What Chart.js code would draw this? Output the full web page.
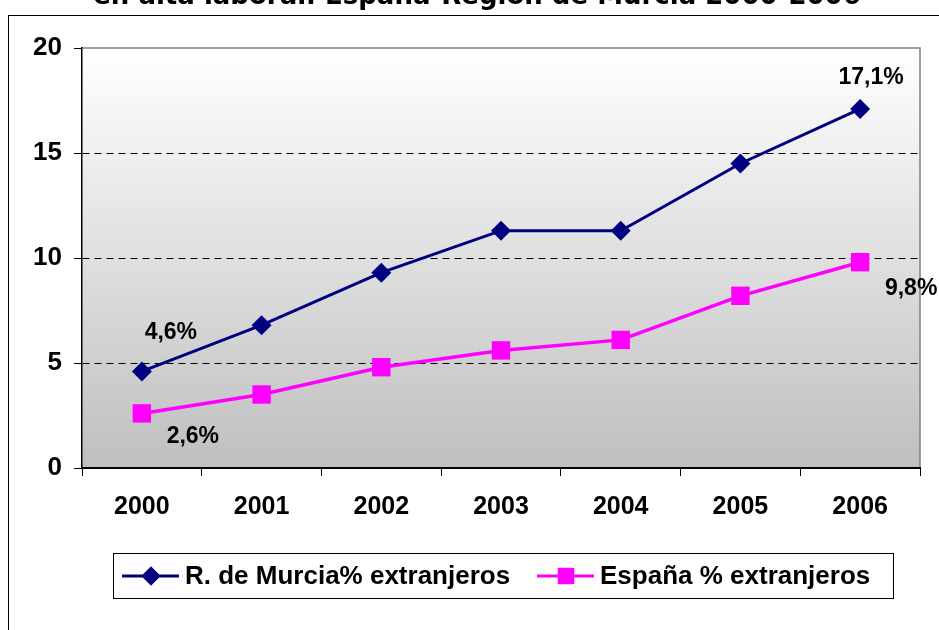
<!DOCTYPE html>
<html>
<head>
<meta charset="utf-8">
<script src="https://cdn.jsdelivr.net/npm/chart.js@4/dist/chart.umd.min.js"></script>
<style>
  html, body { margin: 0; padding: 0; background: #fff; overflow: hidden; }
  #wrap { position: relative; width: 939px; height: 630px; }
</style>
</head>
<body>
<div id="wrap"><canvas id="chart" width="939" height="630"></canvas></div>
<script>
const years = ['2000', '2001', '2002', '2003', '2004', '2005', '2006'];
const murcia = [4.6, 6.8, 9.3, 11.3, 11.3, 14.5, 17.1];
const espana = [2.6, 3.5, 4.8, 5.6, 6.1, 8.2, 9.8];
const seriesNames = ['R. de Murcia% extranjeros', 'España % extranjeros'];
const yTicks = [0, 5, 10, 15, 20];
const titleText = 'en alta laboral. España-Región de Murcia 2000-2006';
// which points carry a value label, and where the label sits relative to the point
const murciaLabels = { 0: [29, -39], 6: [11, -31] };
const espanaLabels = { 0: [51, 23], 6: [51, 26] };

const FONT = '"Liberation Sans", Arial, sans-serif';

const fmt = v => v.toFixed(1).replace('.', ',') + '%';

const decor = {
    id: 'decor',
    beforeDraw(chart) {
        const { ctx, chartArea: a } = chart;
        ctx.save();
        // outer frame, runs past the picture on top-right
        ctx.strokeStyle = '#000';
        ctx.lineWidth = 1;
        ctx.strokeRect(8.5, 15.5, 1000, 700);
        // plot background
        const g = ctx.createLinearGradient(0, a.top, 0, a.bottom);
        g.addColorStop(0, '#ffffff');
        g.addColorStop(1, '#bfbfbf');
        ctx.fillStyle = g;
        ctx.fillRect(a.left, a.top, a.right - a.left, a.bottom - a.top);
        ctx.strokeStyle = '#808080';
        ctx.lineWidth = 1.5;
        ctx.beginPath();
        ctx.moveTo(a.left, a.top);
        ctx.lineTo(a.right, a.top);
        ctx.lineTo(a.right, a.bottom);
        ctx.stroke();
        // title, cut off at the top of the picture
        ctx.fillStyle = '#000';
        ctx.font = 'bold 26px "DejaVu Sans", Verdana, sans-serif';
        ctx.textAlign = 'center';
        ctx.textBaseline = 'alphabetic';
        ctx.fillText(titleText, 477, 4);
        ctx.restore();
    },
    afterDraw(chart) {
        const { ctx } = chart;
        ctx.save();
        ctx.fillStyle = '#000';
        ctx.font = 'bold 23px ' + FONT;
        ctx.textAlign = 'center';
        ctx.textBaseline = 'middle';
        [[0, murciaLabels], [1, espanaLabels]].forEach(([di, lab]) => {
            const meta = chart.getDatasetMeta(di);
            const vals = chart.data.datasets[di].data;
            Object.keys(lab).forEach(i => {
                const p = meta.data[i];
                ctx.fillText(fmt(vals[i]), p.x + lab[i][0], p.y + lab[i][1]);
            });
        });

        // legend box
        ctx.strokeStyle = '#000';
        ctx.lineWidth = 1;
        ctx.strokeRect(113.5, 553.5, 780, 45);
        const ly = 576;
        ctx.font = 'bold 26px ' + FONT;
        ctx.textAlign = 'left';
        const items = [
            { x: 122, color: '#000080', style: 'rectRot', r: 9.5, name: seriesNames[0], tx: 185 },
            { x: 537, color: '#ff00ff', style: 'rect', r: 11.5, name: seriesNames[1], tx: 600 }
        ];
        items.forEach(it => {
            ctx.strokeStyle = it.color;
            ctx.lineWidth = 3;
            ctx.beginPath();
            ctx.moveTo(it.x, ly);
            ctx.lineTo(it.x + 57, ly);
            ctx.stroke();
            ctx.fillStyle = it.color;
            Chart.helpers.drawPoint(ctx, { pointStyle: it.style, radius: it.r, borderWidth: 0 }, it.x + 29, ly);
            ctx.fill();
            ctx.fillStyle = '#000';
            ctx.fillText(it.name, it.tx, ly + 1);
        });
        ctx.restore();
    }
};

new Chart(document.getElementById('chart'), {
    type: 'line',
    data: {
        labels: years,
        datasets: [
            {
                label: seriesNames[0], data: murcia,
                borderColor: '#000080', backgroundColor: '#000080',
                borderWidth: 3, pointStyle: 'rectRot', pointRadius: 10, pointBorderWidth: 0,
                tension: 0
            },
            {
                label: seriesNames[1], data: espana,
                borderColor: '#ff00ff', backgroundColor: '#ff00ff',
                borderWidth: 3.5, pointStyle: 'rect', pointRadius: 13, pointBorderWidth: 0,
                tension: 0
            }
        ]
    },
    options: {
        responsive: false,
        animation: false,
        events: [],
        layout: { padding: { top: 48, right: 19, left: 0, bottom: 0 } },
        plugins: { legend: { display: false }, tooltip: { enabled: false }, title: { display: false } },
        scales: {
            x: {
                offset: true,
                grid: { offset: true, drawOnChartArea: false, drawTicks: true, tickLength: 8, tickColor: '#000', tickWidth: 1 },
                border: { display: true, color: '#000', width: 2 },
                ticks: { color: '#000', font: { family: FONT, size: 25, weight: 'bold' }, padding: 16, maxRotation: 0 },
                afterFit: s => { s.height = 162; }
            },
            y: {
                min: 0, max: 20,
                afterBuildTicks: s => { s.ticks = yTicks.map(v => ({ value: v })); },
                grid: {
                    color: c => (c.tick && c.tick.value > 0 && c.tick.value < 20) ? '#000' : 'rgba(0,0,0,0)',
                    lineWidth: 1, tickLength: 8, tickColor: '#000'
                },
                border: { display: true, color: '#000', width: 1.5, dash: [7, 5] },
                ticks: { color: '#000', font: { family: FONT, size: 26, weight: 'bold' }, padding: 12 },
                afterFit: s => { s.width = 82; }
            }
        }
    },
    plugins: [decor]
});
</script>
</body>
</html>
